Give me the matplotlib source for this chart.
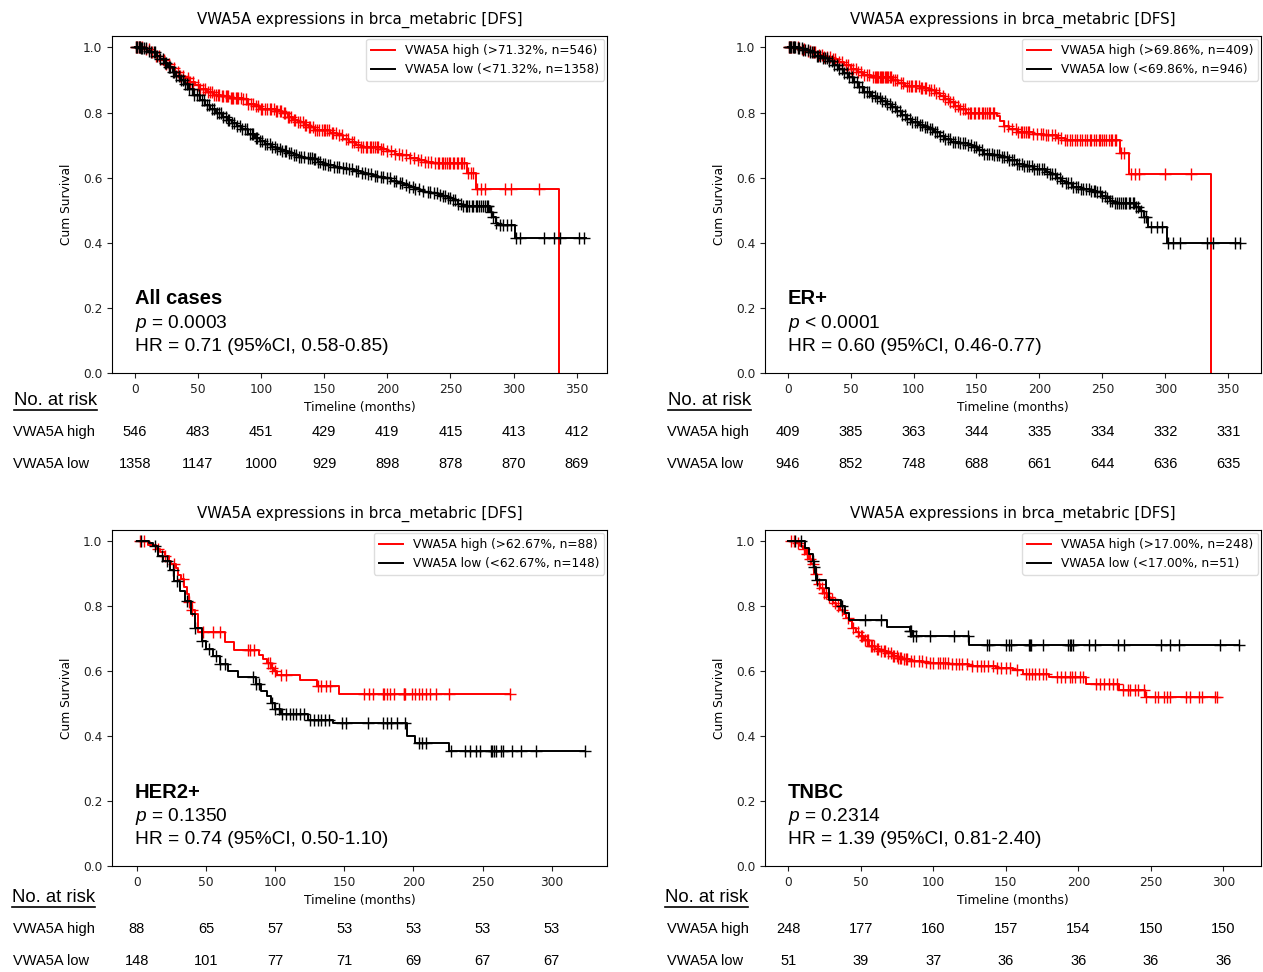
import numpy as np
import matplotlib
matplotlib.use('Agg')
import matplotlib.pyplot as plt
from matplotlib.lines import Line2D

plt.rcParams['mathtext.fontset'] = 'custom'
plt.rcParams['mathtext.rm'] = 'Liberation Sans'
plt.rcParams['mathtext.it'] = 'Liberation Sans:italic'

TITLE = 'VWA5A expressions in brca_metabric [DFS]'

# ---- All cases ----
all_high_t = [0, 8, 12, 16, 20, 24, 28, 32, 36, 40, 44, 48, 52, 57, 62, 68, 75, 86, 90, 95, 99, 106, 112,
              117, 121, 125, 129, 134, 138, 142, 155, 160, 165, 170, 175, 179, 195, 200, 206, 212, 218, 224,
              230, 236, 263, 270, 336]
all_high_s = [1.0, 0.995, 0.985, 0.975, 0.962, 0.95, 0.938, 0.925, 0.913, 0.905, 0.895, 0.883, 0.873, 0.862,
              0.855, 0.85, 0.846, 0.84, 0.827, 0.82, 0.812, 0.81, 0.805, 0.798, 0.787, 0.778, 0.77, 0.762,
              0.755, 0.745, 0.738, 0.73, 0.72, 0.71, 0.70, 0.694, 0.689, 0.682, 0.674, 0.668, 0.66, 0.654,
              0.648, 0.645, 0.613, 0.565, 0.0]
all_high_cens = [1, 2, 3, 4, 6, 9, 11, 14, 17, 19, 23, 25, 27, 31, 34, 36, 38, 42, 44, 46, 50, 52, 54, 56, 58,
                 60, 61, 63, 64, 66, 67, 69, 70, 72, 73, 74, 76, 77, 78, 80, 81, 82, 84, 86, 88, 90, 92, 94,
                 96, 98, 100, 101, 103, 105, 107, 108, 110, 112, 113, 115, 116, 118, 119, 121, 122, 124, 126,
                 127, 129, 131, 133, 135, 136, 138, 139, 141, 143, 144, 146, 148, 150, 151, 152, 154, 156, 157,
                 159, 162, 164, 167, 169, 172, 174, 177, 179, 181, 183, 184, 186, 187, 189, 190, 192, 193,
                 195, 197, 200, 203, 206, 209, 212, 215, 218, 221, 224, 227, 230, 232, 235, 238, 240, 241,
                 243, 244, 246, 247, 249, 250, 252, 253, 255, 256, 258, 259, 261, 264, 266, 268, 271, 274, 277,
                 293, 298, 320]
all_low_t = [0, 5, 10, 13, 17, 20, 23, 26, 30, 33, 36, 39, 43, 47, 52, 56, 60, 64, 69, 74, 77, 81, 85, 90, 95,
             99, 103, 108, 112, 116, 121, 126, 130, 135, 141, 145, 149, 153, 158, 163, 168, 174, 179, 184,
             189, 193, 198, 203, 208, 213, 217, 222, 226, 230, 235, 240, 244, 248, 252, 256, 259, 281, 283,
             286, 288, 301, 357]
all_low_s = [1.0, 0.997, 0.99, 0.986, 0.975, 0.965, 0.953, 0.94, 0.925, 0.912, 0.9, 0.889, 0.872, 0.855,
             0.837, 0.822, 0.81, 0.797, 0.786, 0.776, 0.768, 0.758, 0.748, 0.735, 0.722, 0.712, 0.704, 0.695,
             0.688, 0.682, 0.675, 0.668, 0.663, 0.66, 0.656, 0.648, 0.642, 0.638, 0.634, 0.63, 0.626, 0.621,
             0.615, 0.61, 0.606, 0.603, 0.598, 0.589, 0.583, 0.577, 0.572, 0.566, 0.56, 0.556, 0.552, 0.548,
             0.545, 0.538, 0.531, 0.52, 0.512, 0.495, 0.478, 0.462, 0.454, 0.415, 0.415]
all_low_cens = [1, 2, 3, 4, 5, 6, 7, 9, 11, 13, 15, 16, 18, 20, 22, 24, 25, 27, 28, 30, 31, 33, 35, 37, 38,
                40, 41, 43, 45, 47, 49, 51, 53, 55, 57, 59, 61, 63, 65, 67, 68, 70, 72, 74, 75, 77, 79, 81,
                83, 85, 87, 89, 91, 93, 94, 96, 97, 99, 101, 103, 105, 107, 109, 111, 113, 115, 117, 119, 120,
                122, 124, 126, 128, 130, 132, 134, 137, 139, 140, 142, 143, 145, 147, 149, 151, 153, 155, 158,
                160, 162, 165, 167, 170, 172, 175, 177, 180, 182, 185, 187, 190, 192, 195, 197, 200, 202, 205,
                207, 210, 212, 215, 217, 220, 222, 225, 228, 232, 234, 237, 239, 242, 244, 246, 248, 250, 252,
                254, 256, 258, 260, 262, 263, 265, 267, 268, 270, 271, 273, 274, 276, 277, 279, 280, 282, 284,
                286, 289, 292, 295, 298, 302, 305, 324, 332, 337, 352, 356]
all_risk_high = [546, 483, 451, 429, 419, 415, 413, 412]
all_risk_low = [1358, 1147, 1000, 929, 898, 878, 870, 869]

# ---- ER+ ----
er_high_t = [0, 10, 15, 19, 24, 29, 35, 40, 45, 50, 55, 60, 66, 84, 88, 93, 105, 112, 117, 121, 125, 129, 133,
             137, 142, 166, 169, 172, 176, 182, 195, 204, 214, 220, 264, 271, 336]
er_high_s = [1.0, 0.995, 0.99, 0.985, 0.978, 0.97, 0.963, 0.955, 0.945, 0.935, 0.925, 0.915, 0.909, 0.9,
             0.89, 0.88, 0.875, 0.868, 0.86, 0.852, 0.842, 0.832, 0.82, 0.81, 0.797, 0.79, 0.775, 0.76,
             0.75, 0.74, 0.735, 0.73, 0.722, 0.717, 0.675, 0.61, 0.0]
er_high_cens = [1, 2, 3, 5, 8, 11, 13, 16, 18, 20, 22, 25, 27, 29, 31, 34, 36, 38, 41, 43, 46, 48, 50, 52, 54,
                56, 58, 61, 63, 65, 68, 69, 70, 71, 72, 73, 74, 75, 76, 77, 78, 79, 80, 81, 82, 84, 85, 87, 90,
                92, 95, 96, 98, 99, 101, 102, 104, 106, 107, 109, 110, 112, 114, 116, 118, 120, 123, 125, 127,
                129, 131, 133, 135, 137, 139, 141, 143, 145, 146, 148, 149, 151, 152, 154, 155, 157, 158, 160,
                161, 163, 164, 172, 175, 178, 181, 183, 185, 186, 188, 189, 191, 192, 195, 198, 201, 203, 205,
                207, 210, 212, 215, 217, 220, 222, 224, 226, 228, 230, 232, 234, 236, 238, 240, 241, 243, 245,
                247, 248, 250, 251, 253, 255, 257, 258, 260, 261, 265, 267, 273, 276, 279, 300, 320]
er_low_t = [0, 8, 12, 17, 22, 27, 32, 36, 40, 44, 48, 52, 56, 61, 66, 70, 74, 78, 82, 86, 90, 95, 99, 104, 108,
            112, 116, 121, 125, 130, 137, 143, 147, 151, 156, 163, 169, 175, 182, 188, 195, 200, 205, 208, 213,
            217, 220, 226, 233, 240, 246, 250, 253, 256, 259, 277, 280, 283, 286, 301, 359]
er_low_s = [1.0, 0.997, 0.993, 0.985, 0.975, 0.966, 0.957, 0.947, 0.935, 0.922, 0.909, 0.893, 0.878, 0.863,
            0.852, 0.845, 0.835, 0.826, 0.816, 0.806, 0.793, 0.781, 0.772, 0.762, 0.755, 0.749, 0.74, 0.728,
            0.72, 0.71, 0.706, 0.7, 0.694, 0.685, 0.673, 0.668, 0.663, 0.655, 0.643, 0.637, 0.628, 0.625,
            0.618, 0.612, 0.6, 0.59, 0.582, 0.572, 0.566, 0.56, 0.556, 0.545, 0.537, 0.528, 0.522, 0.51,
            0.497, 0.48, 0.449, 0.4, 0.4]
er_low_cens = [1, 2, 3, 4, 5, 6, 8, 9, 11, 12, 14, 16, 18, 19, 21, 23, 24, 26, 28, 30, 31, 33, 35, 37, 39, 41,
               43, 45, 47, 49, 51, 53, 55, 57, 59, 61, 63, 65, 67, 69, 71, 73, 75, 77, 79, 81, 83, 85, 87, 89,
               91, 93, 95, 97, 99, 101, 103, 105, 107, 109, 111, 113, 115, 117, 119, 121, 123, 125, 127, 129,
               131, 133, 135, 137, 139, 141, 143, 146, 148, 150, 152, 154, 156, 158, 160, 162, 164, 166, 168,
               170, 172, 174, 176, 178, 180, 182, 184, 186, 188, 190, 192, 194, 196, 198, 200, 202, 204, 206,
               208, 210, 212, 214, 216, 218, 221, 223, 225, 227, 229, 231, 233, 235, 237, 239, 241, 243, 244,
               246, 248, 250, 252, 254, 256, 258, 260, 262, 263, 265, 266, 268, 269, 271, 272, 274, 275, 277,
               278, 281, 283, 285, 289, 293, 297, 302, 306, 312, 333, 338, 355, 359]
er_risk_high = [409, 385, 363, 344, 335, 334, 332, 331]
er_risk_low = [946, 852, 748, 688, 661, 644, 636, 635]

# ---- HER2+ ----
her_high_t = [0, 8, 14, 17, 20, 23, 25, 28, 30, 32, 34, 36, 38, 40, 42, 44, 64, 70, 88, 91, 94, 97, 99, 101,
              118, 130, 146, 270]
her_high_s = [1.0, 0.989, 0.978, 0.966, 0.954, 0.941, 0.93, 0.918, 0.895, 0.883, 0.86, 0.837, 0.813, 0.79,
              0.777, 0.72, 0.69, 0.665, 0.65, 0.637, 0.624, 0.61, 0.6, 0.588, 0.572, 0.555, 0.531, 0.531]
her_high_cens = [2, 5, 15, 20, 27, 33, 38, 40, 48, 55, 60, 80, 82, 85, 95, 96, 98, 100, 104, 108, 131, 133,
                 137, 140, 164, 168, 171, 178, 179, 181, 183, 186, 193, 193.5, 194, 199, 201, 204, 206, 209,
                 212, 216, 226, 270]
her_low_t = [0, 9, 12, 15, 19, 24, 27, 31, 35, 39, 42, 47, 50, 55, 60, 66, 73, 86, 90, 94, 97, 100, 104, 124,
             142, 195, 201, 226, 324]
her_low_s = [1.0, 0.994, 0.987, 0.954, 0.939, 0.913, 0.877, 0.847, 0.816, 0.775, 0.734, 0.693, 0.668, 0.647,
             0.622, 0.601, 0.581, 0.56, 0.54, 0.524, 0.503, 0.483, 0.468, 0.45, 0.44, 0.4, 0.378, 0.355,
             0.355]
her_low_cens = [3, 13, 18, 22, 26, 29, 36, 42, 47, 52, 57, 60, 64, 84, 86, 88, 98, 100, 103, 105, 108, 111,
                113, 115, 118, 121, 125, 128, 131, 133, 136, 139, 148, 151, 167, 178, 181, 184, 188, 194, 204,
                206, 209, 227, 237, 241, 245, 248, 256, 257, 258, 260, 263, 265, 271, 278, 289, 324]
her_risk_high = [88, 65, 57, 53, 53, 53, 53]
her_risk_low = [148, 101, 77, 71, 69, 67, 67]

# ---- TNBC ----
tn_high_t = [0, 5, 8, 10, 12, 14, 16, 18, 20, 22, 24, 27, 29, 31, 33, 36, 38, 40, 42, 44, 47, 49, 52, 56, 60,
             63, 68, 72, 76, 79, 84, 88, 93, 97, 111, 125, 143, 155, 162, 180, 205, 228, 246, 296]
tn_high_s = [1.0, 0.995, 0.985, 0.975, 0.96, 0.945, 0.93, 0.9, 0.87, 0.855, 0.842, 0.83, 0.821, 0.81, 0.8,
             0.788, 0.775, 0.765, 0.755, 0.734, 0.72, 0.709, 0.695, 0.678, 0.668, 0.663, 0.655, 0.647, 0.642,
             0.637, 0.633, 0.63, 0.627, 0.624, 0.622, 0.617, 0.611, 0.605, 0.59, 0.583, 0.56, 0.543, 0.52,
             0.52]
tn_high_cens = [2, 4, 7, 11, 13, 15, 17, 19, 21, 23, 25, 26, 28, 30, 32, 34, 37, 41, 45, 48, 50, 51, 53, 54,
                55, 57, 58, 59, 61, 62, 64, 66, 67, 69, 71, 72, 73, 75, 76, 77, 78, 80, 81, 82, 85, 87, 90, 92,
                95, 98, 100, 103, 105, 107, 108, 110, 113, 116, 118, 120, 123, 127, 130, 133, 135, 138, 141,
                144, 147, 150, 153, 158, 164, 166, 168, 170, 173, 176, 178, 185, 188, 191, 194, 196, 198, 201,
                203, 212, 215, 218, 221, 224, 227, 231, 234, 236, 239, 241, 245, 247, 253, 255, 259, 261, 263,
                274, 277, 283, 285, 294, 296]
tn_low_t = [0, 11.5, 14.5, 17, 18, 19.5, 26, 28, 36.5, 39, 42, 68, 84, 86, 125, 311]
tn_low_s = [1.0, 0.98, 0.96, 0.94, 0.92, 0.88, 0.857, 0.82, 0.8, 0.778, 0.758, 0.736, 0.724, 0.71, 0.68,
            0.68]
tn_low_cens = [5, 9, 17, 18, 20, 37, 53, 64, 84, 85, 86, 88, 98, 114, 124, 137, 138.5, 150.4, 152.3, 153.9,
               166, 166.9, 167.6, 175.7, 193, 194.2, 195.3, 196.5, 207.6, 211.5, 227.7, 231.6, 257, 263.5,
               269.2, 297.5, 310.7]
tn_risk_high = [248, 177, 160, 157, 154, 150, 150]
tn_risk_low = [51, 39, 37, 36, 36, 36, 36]

subgroups = ['All cases', 'ER+', 'HER2+', 'TNBC']
p_texts = ['= 0.0003', '< 0.0001', '= 0.1350', '= 0.2314']
hr_texts = ['HR = 0.71 (95%CI, 0.58-0.85)', 'HR = 0.60 (95%CI, 0.46-0.77)',
            'HR = 0.74 (95%CI, 0.50-1.10)', 'HR = 1.39 (95%CI, 0.81-2.40)']
cutoffs = ['71.32%', '69.86%', '62.67%', '17.00%']
n_high = [546, 409, 88, 248]
n_low = [1358, 946, 148, 51]

panels = [
    (all_high_t, all_high_s, all_high_cens, all_low_t, all_low_s, all_low_cens, all_risk_high, all_risk_low),
    (er_high_t, er_high_s, er_high_cens, er_low_t, er_low_s, er_low_cens, er_risk_high, er_risk_low),
    (her_high_t, her_high_s, her_high_cens, her_low_t, her_low_s, her_low_cens, her_risk_high, her_risk_low),
    (tn_high_t, tn_high_s, tn_high_cens, tn_low_t, tn_low_s, tn_low_cens, tn_risk_high, tn_risk_low),
]

W, H = 1263.0, 972.0
# axes boxes in pixels: left, top, right, bottom
boxes = [(112, 36, 607, 373), (765, 36, 1261, 373), (112, 530, 607, 866), (765, 530, 1261, 866)]
xlims = [(-18, 374), (-18, 376), (-18, 340), (-16, 326)]
xticks = [np.arange(0, 351, 50), np.arange(0, 351, 50), np.arange(0, 301, 50), np.arange(0, 301, 50)]
label_x = [13, 667, 13, 667]
norisk_x = [14, 668, 12, 665]
risk_rows_y = [(400, 432, 464), (400, 432, 464), (897, 929, 961), (897, 929, 961)]

fig = plt.figure(figsize=(W / 100, H / 100), dpi=100)


def surv_at(t, s, x):
    idx = np.searchsorted(np.asarray(t), np.asarray(x), side='right') - 1
    return np.asarray(s)[idx]


for i, (ht, hs, hc, lt, ls, lc, rh, rl) in enumerate(panels):
    l, t, r, b = boxes[i]
    ax = fig.add_axes([l / W, 1 - b / H, (r - l) / W, (b - t) / H])

    ax.step(ht, hs, where='post', color='red', lw=1.4,
            label='VWA5A high (>%s, n=%d)' % (cutoffs[i], n_high[i]))
    ax.plot(hc, surv_at(ht, hs, hc), '+', color='red', ms=8, mew=1)
    ax.step(lt, ls, where='post', color='black', lw=1.4,
            label='VWA5A low (<%s, n=%d)' % (cutoffs[i], n_low[i]))
    ax.plot(lc, surv_at(lt, ls, lc), '+', color='black', ms=8, mew=1)

    ax.set_xlim(*xlims[i])
    ax.set_ylim(0, 1.035)
    ax.set_xticks(xticks[i])
    ax.set_yticks(np.arange(0, 1.01, 0.2))
    ax.tick_params(labelsize=8.8, colors='#222222')
    ax.set_title(TITLE, fontsize=10.8, pad=9)
    ax.set_xlabel('Timeline (months)', fontsize=8.8, labelpad=4)
    ax.set_ylabel('Cum Survival', fontsize=8.8, labelpad=7)
    ax.legend(loc='upper right', fontsize=8.7, borderaxespad=0.25, handlelength=2.0,
              framealpha=1, edgecolor='#dddddd')

    ax.text(0.046, 0.22, subgroups[i], transform=ax.transAxes, fontsize=14.5,
            family='Liberation Sans', weight='bold', va='center')
    ax.text(0.046, 0.148, r'$\it{p}$ ' + p_texts[i], transform=ax.transAxes, fontsize=13.8,
            family='Liberation Sans', va='center')
    ax.text(0.046, 0.08, hr_texts[i], transform=ax.transAxes, fontsize=13.8,
            family='Liberation Sans', va='center')

    # number-at-risk table
    y0, y1, y2 = risk_rows_y[i]
    fig.text(norisk_x[i] / W, 1 - y0 / H, 'No. at risk', fontsize=13.3,
             family='Liberation Sans', va='center')
    fig.add_artist(Line2D([norisk_x[i] / W, (norisk_x[i] + 83) / W],
                          [1 - (y0 + 10) / H, 1 - (y0 + 10) / H], color='black', lw=1.2))
    fig.text(label_x[i] / W, 1 - y1 / H, 'VWA5A high', fontsize=10.5,
             family='Liberation Sans', va='center')
    fig.text(label_x[i] / W, 1 - y2 / H, 'VWA5A low', fontsize=10.5,
             family='Liberation Sans', va='center')
    trans = matplotlib.transforms.blended_transform_factory(ax.transData, fig.transFigure)
    for xt, vh, vl in zip(xticks[i], rh, rl):
        fig.text(xt, 1 - y1 / H, str(vh), transform=trans, fontsize=10.5,
                 family='Liberation Sans', ha='center', va='center')
        fig.text(xt, 1 - y2 / H, str(vl), transform=trans, fontsize=10.5,
                 family='Liberation Sans', ha='center', va='center')

fig.savefig('out.png', dpi=100)
